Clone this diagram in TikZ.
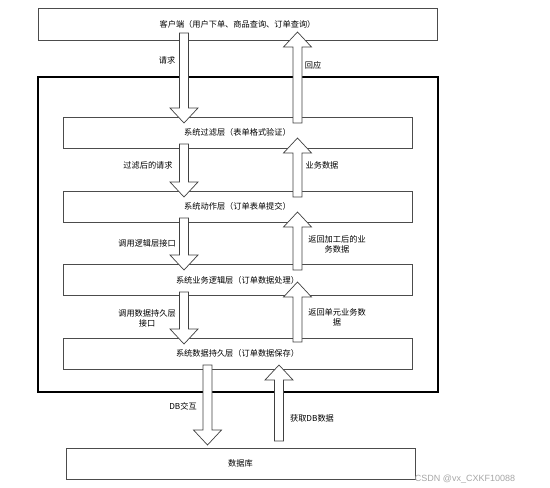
\documentclass[tikz,border=0pt]{standalone}
\usepackage{fontspec}
\setmainfont{Noto Sans CJK SC}
\newfontfamily\markfont{Liberation Sans}
\usepackage{tikz}
\usetikzlibrary{calc,positioning}

\begin{document}
\begin{tikzpicture}[
  x=1pt,y=-1pt,
  font=\fontsize{8.2}{10}\selectfont,
  layer/.style={draw=black!70,line width=0.8pt,minimum width=349pt,minimum height=31pt,inner sep=0pt},
  lbl/.style={align=center,inner sep=1pt},
  fat/.style={draw=black!75,fill=white,line width=0.7pt,to path={
    let \p1=(\tikztostart), \p2=(\tikztotarget), \n1={sign(\y2-\y1)} in
    (\x1-4.5pt,\y1) -- (\x1-4.5pt,\y2-\n1*15pt) -- (\x1-14pt,\y2-\n1*15pt) -- (\x2,\y2)
    -- (\x1+14pt,\y2-\n1*15pt) -- (\x1+4.5pt,\y2-\n1*15pt) -- (\x1+4.5pt,\y1) -- cycle}}
]
\useasboundingbox (0,0) rectangle (550,488);

% boxes
\node[layer,minimum width=399pt,minimum height=32pt] (client) at (237.5,24) {客户端（用户下单、商品查询、订单查询）};
\node[draw,line width=2pt,minimum width=400pt,minimum height=315pt,inner sep=0pt] (frame) at (238,234.5) {};
\node[layer] (filter) at (237.5,132.5) {系统过滤层（表单格式验证）};
\node[layer] (action) at (237.5,206.5) {系统动作层（订单表单提交）};
\node[layer] (logic) at (237.5,280) {系统业务逻辑层（订单数据处理）};
\node[layer] (persist) at (237.5,353.5) {系统数据持久层（订单数据保存）};
\node[layer] (db) at (240.5,463.5) {数据库};

% arrow ends
\coordinate (d1a) at (184,33);    \coordinate (d1b) at (184,123);
\coordinate (d2a) at (184,144);   \coordinate (d2b) at (184,197);
\coordinate (d3a) at (184,218);   \coordinate (d3b) at (184,270);
\coordinate (d4a) at (184,292);   \coordinate (d4b) at (184,344);
\coordinate (d5a) at (207.5,365); \coordinate (d5b) at (207.5,445);
\coordinate (u1a) at (297.5,123); \coordinate (u1b) at (297.5,32);
\coordinate (u2a) at (297.5,197); \coordinate (u2b) at (297.5,138);
\coordinate (u3a) at (297.5,270); \coordinate (u3b) at (297.5,212);
\coordinate (u4a) at (297.5,342); \coordinate (u4b) at (297.5,282);
\coordinate (u5a) at (279,441);   \coordinate (u5b) at (279,365);

\foreach \a in {d1,d2,d3,d4,d5,u1,u2,u3,u4,u5}
  \draw[fat] (\a a) to (\a b);

% labels
\node[lbl] (req) at (167,60) {请求};
\node[lbl] (resp) at (313,65) {回应};
\node[lbl] (freq) at (148,165) {过滤后的请求};
\node[lbl] (bdata) at (322,165) {业务数据};
\node[lbl] (call1) at (147,243) {调用逻辑层接口};
\node[lbl] (ret1) at (337,244) {返回加工后的业\\务数据};
\node[lbl] (call2) at (147,318) {调用数据持久层\\接口};
\node[lbl] (ret2) at (337,317) {返回单元业务数\\据};
\node[lbl] (dbio) at (183,406) {DB交互};
\node[lbl] (dbget) at (312,418) {获取DB数据};
\node[lbl,text=black!35,font=\markfont\fontsize{9}{10}\selectfont] (mark) at (465,479) {CSDN @vx\_CXKF10088};
\end{tikzpicture}
\end{document}
